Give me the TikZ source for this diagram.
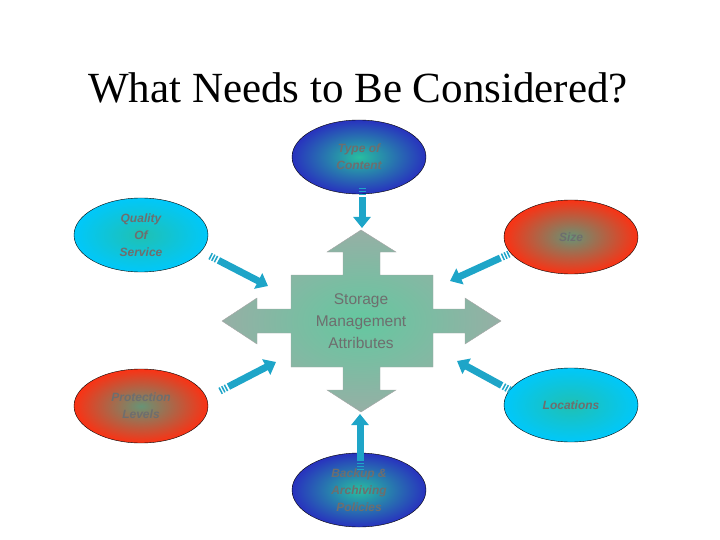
\documentclass[tikz,border=0pt]{standalone}
\usepackage{fontspec}
\setmainfont{Liberation Serif}
\setsansfont{Liberation Sans}
\usetikzlibrary{arrows.meta,calc,shapes.geometric}
\definecolor{txtgrey}{RGB}{110,110,110}
\definecolor{tealc}{RGB}{40,190,160}
\definecolor{bluec}{RGB}{40,50,190}
\definecolor{cyanc}{RGB}{0,200,250}
\definecolor{redc}{RGB}{250,50,20}
\definecolor{arrc}{RGB}{30,165,200}
\definecolor{crossin}{RGB}{100,200,160}
\definecolor{crossout}{RGB}{150,175,165}
\tikzset{
  oval/.style={ellipse, draw=black, line width=0.4pt, minimum width=134pt, minimum height=74pt,
    font=\sffamily\bfseries\itshape\fontsize{12}{17}\selectfont, text=txtgrey, align=center, inner sep=0pt},
  blueoval/.style={oval, inner color=tealc, outer color=bluec},
  cyanoval/.style={oval, inner color=tealc!80!cyanc, outer color=cyanc},
  redoval/.style={oval, inner color=tealc!70!redc, outer color=redc},
  fat/.style={draw=arrc, line width=7pt, -{Triangle[length=11pt,width=17pt]}},
  stripes/.style={draw=arrc, line width=7pt, dash pattern=on 1.5pt off 1.5pt},
}
\begin{document}
\begin{tikzpicture}[x=1pt,y=-1pt]
\useasboundingbox (0,0) rectangle (720,540);
\node[font=\fontsize{43}{48}\selectfont] (title) at (358,88) {What Needs to Be Considered?};
% central cross
\path[draw=gray!70, inner color=crossin, outer color=crossout]
 (291,275) -- (343,275) -- (343,252) -- (327,252) -- (361,230) -- (396,252) -- (380,252) -- (380,275)
 -- (433,275) -- (433,309) -- (465,309) -- (465,298) -- (501,321) -- (465,344) -- (465,333) -- (433,333)
 -- (433,367) -- (380,367) -- (380,390) -- (396,390) -- (361,412) -- (327,390) -- (343,390) -- (343,367)
 -- (291,367) -- (291,333) -- (257,333) -- (257,344) -- (222,321) -- (257,298) -- (257,309) -- (291,309) -- cycle;
\node[font=\sffamily\fontsize{15.5}{22}\selectfont, text=txtgrey, align=center] (center) at (361,321) {Storage\\Management\\Attributes};
% ovals
\node[blueoval] (toc) at (359,157) {Type of\\Content};
\node[cyanoval] (qos) at (141,235) {Quality\\Of\\Service};
\node[redoval] (size) at (571,237) {Size};
\node[redoval] (prot) at (141,406) {Protection\\Levels};
\node[cyanoval] (loc) at (571,405) {Locations};
\node[blueoval] (bak) at (359,490) {Backup \&\\Archiving\\Policies};
% connectors
\foreach \n/\a/\b in {t/{362,188}/{362,228}, q/{210,256}/{268,286}, s/{509,254}/{450,281},
                      p/{220,391}/{276,362}, l/{510,390}/{457,361}, b/{360,470}/{360,414}}{
  \coordinate (\n1) at (\a);
  \coordinate (\n2) at (\b);
  \draw[stripes] (\n1) -- ($(\n1)!8pt!(\n2)$);
  \draw[fat] ($(\n1)!9.5pt!(\n2)$) -- (\n2);
}
\end{tikzpicture}
\end{document}
